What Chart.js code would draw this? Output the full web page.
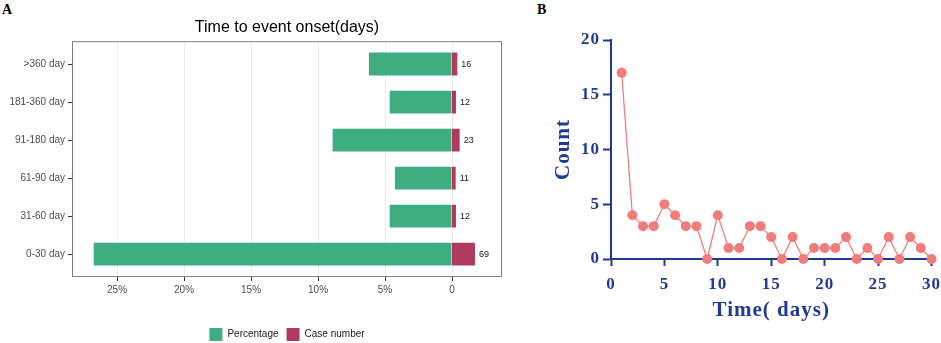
<!DOCTYPE html>
<html>
<head>
<meta charset="utf-8">
<script src="https://cdn.jsdelivr.net/npm/chart.js@4.4.0/dist/chart.umd.min.js"></script>
<style>
  html, body { margin: 0; padding: 0; background: #fff; }
  body { width: 941px; height: 343px; position: relative; overflow: hidden; }
  .panel-tag { position: absolute; font: bold 14px "Liberation Serif", "Times New Roman", serif; color: #000; }
  #wrapA { position: absolute; left: 0; top: 0; width: 510px; height: 343px; }
  #wrapB { position: absolute; left: 515px; top: 0; width: 440px; height: 343px; }
</style>
</head>
<body>
<div class="panel-tag" style="left:2px;top:2px">A</div>
<div class="panel-tag" style="left:537px;top:2px">B</div>
<div id="wrapA"><canvas id="onsetChart"></canvas></div>
<div id="wrapB"><canvas id="countChart"></canvas></div>
<script>
// Panel A - time to onset
const onsetLabels = ['>360 day', '181-360 day', '91-180 day', '61-90 day', '31-60 day', '0-30 day'];
const onsetPercent = [6.20, 4.65, 8.91, 4.26, 4.65, 26.74];
const onsetCases = [16, 12, 23, 11, 12, 69];
const percentTicks = [0, 5, 10, 15, 20, 25];

// Panel B - counts per day
const dayValues = [1, 2, 3, 4, 5, 6, 7, 8, 9, 10, 11, 12, 13, 14, 15, 16, 17, 18, 19, 20, 21, 22, 23, 24, 25, 26, 27, 28, 29, 30];
const dayCounts = [17, 4, 3, 3, 5, 4, 3, 3, 0, 4, 1, 1, 3, 3, 2, 0, 2, 0, 1, 1, 1, 2, 0, 1, 0, 2, 0, 2, 1, 0];

const sansFont = "'Liberation Sans', Arial, sans-serif";
const serifFont = "'Liberation Serif', 'Times New Roman', serif";
const navy = '#1f3a93';

// grey frame round the plot panel
const panelBorder = {
    id: 'panelBorder',
    afterDraw(chart) {
        const { left, top, width, height } = chart.chartArea;
        const ctx = chart.ctx;
        ctx.save();
        ctx.strokeStyle = '#808080';
        ctx.lineWidth = 1;
        ctx.strokeRect(left + 0.5, top + 0.5, width - 1, height - 1);
        ctx.restore();
    }
};

// case number text next to the red bars
const caseLabels = {
    id: 'caseLabels',
    afterDatasetsDraw(chart) {
        const meta = chart.getDatasetMeta(1);
        const ctx = chart.ctx;
        ctx.save();
        ctx.font = '9px ' + sansFont;
        ctx.fillStyle = '#1a1a1a';
        ctx.textBaseline = 'middle';
        meta.data.forEach((bar, i) => {
            ctx.fillText(String(onsetCases[i]), bar.x + 4, bar.y);
        });
        ctx.restore();
    }
};

new Chart(document.getElementById('onsetChart'), {
    type: 'bar',
    data: {
        labels: onsetLabels,
        datasets: [
            {
                label: 'Percentage',
                data: onsetPercent,
                xAxisID: 'x',
                backgroundColor: '#3ead82',
                grouped: false,
                barPercentage: 0.6,
                categoryPercentage: 1
            },
            {
                label: 'Case number',
                data: onsetCases,
                xAxisID: 'x2',
                backgroundColor: '#b03b5e',
                grouped: false,
                barPercentage: 0.6,
                categoryPercentage: 1
            }
        ]
    },
    options: {
        indexAxis: 'y',
        responsive: true,
        maintainAspectRatio: false,
        animation: false,
        layout: { padding: { left: 0, right: 8, top: 0, bottom: -8 } },
        scales: {
            x: {
                reverse: true,
                min: -3.73,
                max: 28.36,
                afterBuildTicks: axis => { axis.ticks = percentTicks.map(v => ({ value: v })); },
                afterFit: axis => { axis.height = 43; },
                ticks: {
                    callback: v => v === 0 ? '0' : v + '%',
                    color: '#4d4d4d',
                    font: { size: 10, family: sansFont },
                    padding: 3,
                    maxRotation: 0
                },
                grid: { color: '#ebebeb', tickColor: '#333', tickLength: 4 },
                border: { display: false }
            },
            x2: { display: false, min: -1140, max: 150 },
            y: {
                afterBuildTicks: axis => {
                    // ggplot style discrete expansion (0.6 of a band each side)
                    axis._startValue = -0.6;
                    axis._valueRange = onsetLabels.length - 1 + 1.2;
                },
                afterFit: axis => { axis.width = 72; },
                ticks: {
                    color: '#4d4d4d',
                    font: { size: 10, family: sansFont },
                    padding: 3,
                    autoSkip: false
                },
                grid: { drawOnChartArea: false, offset: false, tickColor: '#333', tickLength: 4 },
                border: { display: false }
            }
        },
        plugins: {
            title: {
                display: true,
                text: 'Time to event onset(days)',
                fullSize: false,
                color: '#000',
                font: { size: 16, family: sansFont, weight: 'normal' },
                padding: { top: 18, bottom: 4 }
            },
            legend: {
                position: 'bottom',
                fullSize: false,
                labels: {
                    boxWidth: 13,
                    boxHeight: 13,
                    padding: 8,
                    color: '#1a1a1a',
                    font: { size: 10, family: sansFont }
                }
            },
            tooltip: { enabled: false }
        }
    },
    plugins: [caseLabels, panelBorder]
});

// wide letter spacing as in the original figure
const spacedText = {
    id: 'spacedText',
    beforeLayout(chart) { chart.ctx.letterSpacing = '1px'; },
    beforeDraw(chart) { chart.ctx.letterSpacing = '1px'; }
};

new Chart(document.getElementById('countChart'), {
    type: 'line',
    data: {
        datasets: [{
            label: 'Count',
            data: dayValues.map((d, i) => ({ x: d, y: dayCounts[i] })),
            borderColor: '#f08080',
            backgroundColor: '#f08080',
            pointBackgroundColor: '#f07c7c',
            pointBorderWidth: 0,
            pointRadius: 5,
            borderWidth: 1.3,
            tension: 0,
            clip: false
        }]
    },
    options: {
        responsive: true,
        maintainAspectRatio: false,
        animation: false,
        layout: { padding: { left: 0, right: 23.5, top: 40, bottom: 0 } },
        scales: {
            x: {
                type: 'linear',
                min: 0,
                max: 30,
                afterFit: axis => { axis.height = 84; },
                ticks: {
                    stepSize: 5,
                    color: navy,
                    font: { size: 17, family: serifFont, weight: 'bold' },
                    padding: 8,
                    maxRotation: 0
                },
                grid: { drawOnChartArea: false, tickColor: navy, tickLength: 7, tickWidth: 2 },
                border: { color: navy, width: 2 },
                title: {
                    display: true,
                    text: 'Time( days)',
                    color: navy,
                    font: { size: 21, family: serifFont, weight: 'bold' },
                    padding: { top: 0, bottom: 20 }
                }
            },
            y: {
                min: 0,
                max: 20,
                afterFit: axis => { axis.width = 96; },
                ticks: {
                    stepSize: 5,
                    color: navy,
                    font: { size: 17, family: serifFont, weight: 'bold' },
                    padding: 3
                },
                grid: { drawOnChartArea: false, tickColor: navy, tickLength: 8, tickWidth: 2 },
                border: { color: navy, width: 2 },
                title: {
                    display: true,
                    text: 'Count',
                    color: navy,
                    font: { size: 21, family: serifFont, weight: 'bold' },
                    padding: { top: 36, bottom: 0 }
                }
            }
        },
        plugins: {
            legend: { display: false },
            tooltip: { enabled: false }
        }
    },
    plugins: [spacedText]
});
</script>
</body>
</html>
